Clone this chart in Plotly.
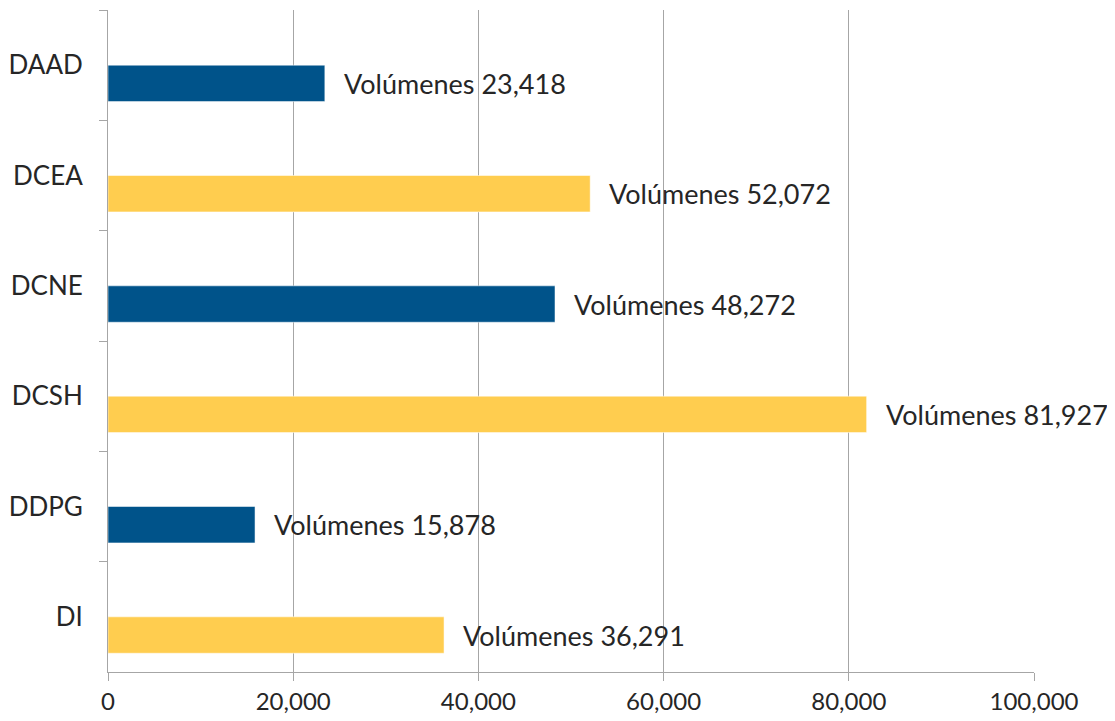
import plotly.graph_objects as go

# ================== DATA ==================
categories = ["DAAD", "DCEA", "DCNE", "DCSH", "DDPG", "DI"]
volumes = [23418, 52072, 48272, 81927, 15878, 36291]
bar_colors = ["#00538A", "#FFCD4F", "#00538A", "#FFCD4F", "#00538A", "#FFCD4F"]
label_prefix = "Volúmenes"
x_ticks = [0, 20000, 40000, 60000, 80000, 100000]
x_ticktext = ["0", "20,000", "40,000", "60,000", "80,000", "100,000"]

FONT = "Lato"
TEXT_COLOR = "#262626"
GRID = "#A6A6A6"

fig = go.Figure()

# bars sit in the lower half of each category band
fig.add_trace(go.Bar(
    x=volumes,
    y=categories,
    orientation="h",
    width=0.33,
    offset=0,
    marker=dict(color=bar_colors, line=dict(color="rgba(255,255,255,0.5)", width=1)),
    hoverinfo="x+y",
))

# data labels to the right of each bar
for i, (cat, val) in enumerate(zip(categories, volumes)):
    fig.add_annotation(
        x=val, y=i + 0.165,
        xref="x", yref="y",
        text=f"{label_prefix} {val:,}",
        showarrow=False,
        xanchor="left", yanchor="middle",
        xshift=17,
        font=dict(family=FONT, size=27, color=TEXT_COLOR),
    )

# page body has an 8px margin, so the figure is sized 8px smaller
fig.update_layout(
    width=1107, height=713,
    margin=dict(l=100, r=81, t=2, b=49),
    plot_bgcolor="white",
    paper_bgcolor="white",
    showlegend=False,
    font=dict(family=FONT, color=TEXT_COLOR),
    xaxis=dict(
        range=[0, 100000],
        tickvals=x_ticks,
        ticktext=x_ticktext,
        showgrid=True, gridcolor=GRID, gridwidth=1,
        showline=True, linecolor=GRID, linewidth=1,
        ticks="outside", ticklen=8, tickcolor=GRID,
        tickfont=dict(family=FONT, size=24, color=TEXT_COLOR),
        zeroline=False,
        automargin=False,
    ),
    yaxis=dict(
        autorange="reversed",
        range=[5.5, -0.5],
        showgrid=False,
        showline=True, linecolor=GRID, linewidth=1,
        ticks="outside", ticklen=8, tickcolor=GRID,
        tickson="boundaries",
        tickfont=dict(family=FONT, size=26, color=TEXT_COLOR),
        ticklabelstandoff=19,
        automargin=False,
    ),
)

fig.write_html("out.html")
